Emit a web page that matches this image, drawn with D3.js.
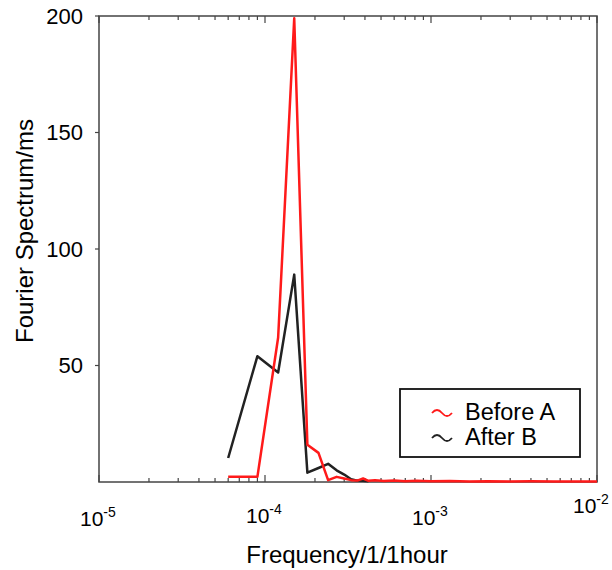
<!DOCTYPE html>
<html>
<head>
<meta charset="utf-8">
<script src="https://cdn.jsdelivr.net/npm/d3@7"></script>
<style>
  body { margin: 0; background: #fff; }
  text { font-family: "Liberation Sans", Arial, sans-serif; fill: #000; }
</style>
</head>
<body>
<svg width="612" height="570"></svg>
<script>
// frequency bins (1/hour) and spectrum values
var freqBefore = [6e-5, 9e-5, 1.2e-4, 1.5e-4, 1.8e-4, 2.1e-4, 2.4e-4, 2.7e-4, 3.0e-4, 3.3e-4, 3.6e-4, 3.9e-4, 4.2e-4,
                  4.6e-4, 5.2e-4, 6e-4, 7e-4, 8.2e-4, 1e-3, 1.3e-3, 1.7e-3, 2.2e-3, 3e-3, 4e-3, 5.5e-3, 7.5e-3, 1e-2];
var before = [2.3, 2.2, 62, 199, 16, 12.5, 0.8, 2.2, 1.5, 0.8, 0.6, 1.5, 0.5,
              0.8, 0.4, 0.6, 0.3, 0.5, 0.3, 0.4, 0.2, 0.3, 0.2, 0.3, 0.2, 0.2, 0.2];
var freqAfter = [6e-5, 9e-5, 1.2e-4, 1.5e-4, 1.8e-4, 2.1e-4, 2.4e-4, 2.7e-4, 3.0e-4, 3.3e-4, 3.6e-4, 3.9e-4, 4.2e-4];
var after = [10.3, 54, 47, 89, 4, 6, 7.8, 5, 3.2, 1.2, 0.6, 0.5, 0.3];

var yTicks = [50, 100, 150, 200];
var xTickExp = [-5, -4, -3, -2];
var seriesNames = ["Before A", "After B"];
var seriesColors = ["#ff1a1a", "#222"];

function main() {
    var svg = d3.select("svg"),
        left = 99, right = 597, top = 16, bottom = 482;

    var x = d3.scaleLog().domain([1e-5, 1e-2]).range([left, right]);
    var y = d3.scaleLinear().domain([0, 200]).range([bottom, top]);

    // frame
    svg.append("rect")
        .attr("x", left).attr("y", top)
        .attr("width", right - left).attr("height", bottom - top)
        .attr("fill", "none").attr("stroke", "#444").attr("stroke-width", 1.5);

    // log ticks on bottom and top, pointing inward
    var minor = [];
    xTickExp.forEach(function(e) {
        if (e < -2) for (var m = 2; m <= 9; m++) minor.push(m * Math.pow(10, e));
    });
    var majors = xTickExp.map(function(e) { return Math.pow(10, e); });

    var tg = svg.append("g").attr("stroke", "#444").attr("stroke-width", 1.2);
    minor.forEach(function(v) {
        tg.append("line").attr("x1", x(v)).attr("x2", x(v)).attr("y1", bottom).attr("y2", bottom - 4);
        tg.append("line").attr("x1", x(v)).attr("x2", x(v)).attr("y1", top).attr("y2", top + 4);
    });
    majors.forEach(function(v) {
        tg.append("line").attr("x1", x(v)).attr("x2", x(v)).attr("y1", bottom).attr("y2", bottom - 7);
        tg.append("line").attr("x1", x(v)).attr("x2", x(v)).attr("y1", top).attr("y2", top + 7);
    });

    // y ticks, pointing outward
    yTicks.forEach(function(v) {
        tg.append("line").attr("x1", left - 4).attr("x2", left).attr("y1", y(v)).attr("y2", y(v));
        svg.append("text")
            .attr("x", 83).attr("y", y(v)).attr("dy", "0.36em")
            .attr("text-anchor", "end").attr("font-size", "22px")
            .text(v);
    });

    // x tick labels 10^e (small wobble as in the original; last one kept inside the page)
    var labelY = [526, 523, 525, 513];
    var labelDx = [-19, -19, -19, -24];
    xTickExp.forEach(function(e, i) {
        var t = svg.append("text")
            .attr("x", x(Math.pow(10, e)) + labelDx[i]).attr("y", labelY[i])
            .attr("font-size", "21px");
        t.append("tspan").text("10");
        t.append("tspan").attr("dy", "-9").attr("font-size", "14px").text(e);
    });

    // axis titles
    svg.append("text")
        .attr("x", 347).attr("y", 563)
        .attr("text-anchor", "middle").attr("font-size", "24px")
        .text("Frequency/1/1hour");
    svg.append("text")
        .attr("transform", "translate(33,231) rotate(-90)")
        .attr("text-anchor", "middle").attr("font-size", "24px")
        .text("Fourier Spectrum/ms");

    var line = d3.line()
        .x(function(d) { return x(d[0]); })
        .y(function(d) { return y(d[1]); });

    svg.append("path")
        .datum(d3.zip(freqAfter, after))
        .attr("d", line)
        .attr("fill", "none").attr("stroke", seriesColors[1]).attr("stroke-width", 2.5)
        .attr("stroke-linejoin", "round");
    svg.append("path")
        .datum(d3.zip(freqBefore, before))
        .attr("d", line)
        .attr("fill", "none").attr("stroke", seriesColors[0]).attr("stroke-width", 2.5)
        .attr("stroke-linejoin", "round");

    // legend
    var lg = svg.append("g");
    lg.append("rect")
        .attr("x", 400).attr("y", 389).attr("width", 180).attr("height", 68)
        .attr("fill", "#fff").attr("stroke", "#111").attr("stroke-width", 1.8);
    seriesNames.forEach(function(name, i) {
        var cy = 412 + i * 25;
        lg.append("path")
            .attr("d", "M432," + (cy + 1) + " q5,-6 10,0 t10,0")
            .attr("fill", "none").attr("stroke", seriesColors[i]).attr("stroke-width", 1.8);
        lg.append("text")
            .attr("x", 465).attr("y", cy).attr("dy", "0.36em")
            .attr("font-size", "23.5px")
            .text(name);
    });
}
main();
</script>
</body>
</html>
